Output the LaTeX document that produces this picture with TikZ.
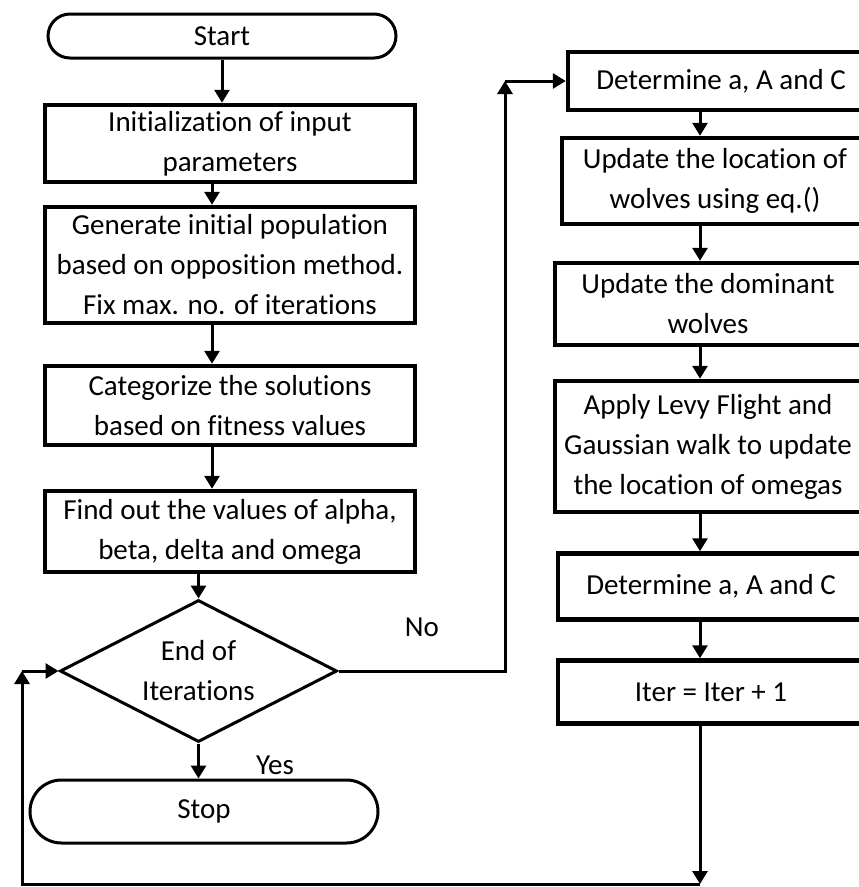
\documentclass[tikz,border=0pt]{standalone}
\usepackage{fontspec}
\setmainfont{Carlito}[Ligatures=NoCommon]
\usetikzlibrary{arrows.meta,shapes.geometric,calc,positioning}

\begin{document}
\begin{tikzpicture}[x=1pt, y=-1pt, >={Triangle[length=13pt,width=15pt]},
    every node/.style={font=\fontsize{29}{40}\selectfont}]
    \tikzset{BoxStyle/.style = {draw, line width=4.5pt, align=center,
        minimum width=#1, inner sep=2pt},
      TermStyle/.style = {draw, line width=3pt, rounded corners=#1,
        minimum width=348pt, minimum height=2*#1},
      DecStyle/.style = {draw, diamond, line width=3pt, align=center,
        minimum width=277pt, minimum height=142pt, aspect=1.95, inner sep=0pt},
      EdgeStyle/.style = {->, line width=3pt}}
    \useasboundingbox (0,0) rectangle (859,887);
    \coordinate (lcol) at (212,0);
    \coordinate (rcol) at (700,0);
    \coordinate (nocorner) at (505,0);
    \coordinate (bot) at (22,884);
    \node[TermStyle=22pt] (start) at (222,36) {Start};
    \node[BoxStyle=370pt, minimum height=77pt] (init) at (230,143.5) {Initialization of input\\parameters};
    \node[BoxStyle=370pt, minimum height=116pt] (gen) at (230,265) {Generate initial population\\based on opposition method.\\Fix max. no. of iterations};
    \node[BoxStyle=370pt, minimum height=79pt] (cat) at (230,405.5) {Categorize the solutions\\based on fitness values};
    \node[BoxStyle=370pt, minimum height=81pt] (find) at (230,531.5) {Find out the values of alpha,\\beta, delta and omega};
    \node[DecStyle] (cond) at (198.5,671) {End of\\Iterations};
    \node[TermStyle=31.5pt] (stop) at (204,811.5) {Stop};
    \node (yes) at (275,765) {Yes};
    \node (no) at (422,627) {No};
    \node[BoxStyle=306pt, minimum height=58pt] (det1) at (721,81) {Determine a, A and C};
    \node[BoxStyle=306pt, minimum height=86pt] (loc) at (715,181) {Update the location of\\wolves using eq.()};
    \node[BoxStyle=306pt, minimum height=82pt] (dom) at (708,304) {Update the dominant\\wolves};
    \node[BoxStyle=306pt, minimum height=131pt] (levy) at (708,446.5) {Apply Levy Flight and\\Gaussian walk to update\\the location of omegas};
    \node[BoxStyle=306pt, minimum height=66pt] (det2) at (711,586.5) {Determine a, A and C};
    \node[BoxStyle=306pt, minimum height=63pt] (iter) at (711,692) {Iter = Iter + 1};
    \draw[EdgeStyle] (start.south) -- (start.south |- init.north);
    \draw[EdgeStyle] (lcol |- init.south) -- (lcol |- gen.north);
    \draw[EdgeStyle] (lcol |- gen.south) -- (lcol |- cat.north);
    \draw[EdgeStyle] (lcol |- cat.south) -- (lcol |- find.north);
    \draw[EdgeStyle] (cond.north |- find.south) -- (cond.north);
    \draw[EdgeStyle] (cond.south) -- (cond.south |- stop.north);
    \draw[EdgeStyle] (cond.east) -| (nocorner |- det1.west);
    \draw[EdgeStyle] (nocorner |- det1.west) -- (det1.west);
    \draw[EdgeStyle] (rcol |- det1.south) -- (rcol |- loc.north);
    \draw[EdgeStyle] (rcol |- loc.south) -- (rcol |- dom.north);
    \draw[EdgeStyle] (rcol |- dom.south) -- (rcol |- levy.north);
    \draw[EdgeStyle] (rcol |- levy.south) -- (rcol |- det2.north);
    \draw[EdgeStyle] (rcol |- det2.south) -- (rcol |- iter.north);
    \draw[EdgeStyle] (rcol |- iter.south) -- (rcol |- bot);
    \draw[EdgeStyle] (rcol |- bot) -- (bot) -- (bot |- cond.west);
    \draw[EdgeStyle] (bot |- cond.west) -- (cond.west);
\end{tikzpicture}
\end{document}
